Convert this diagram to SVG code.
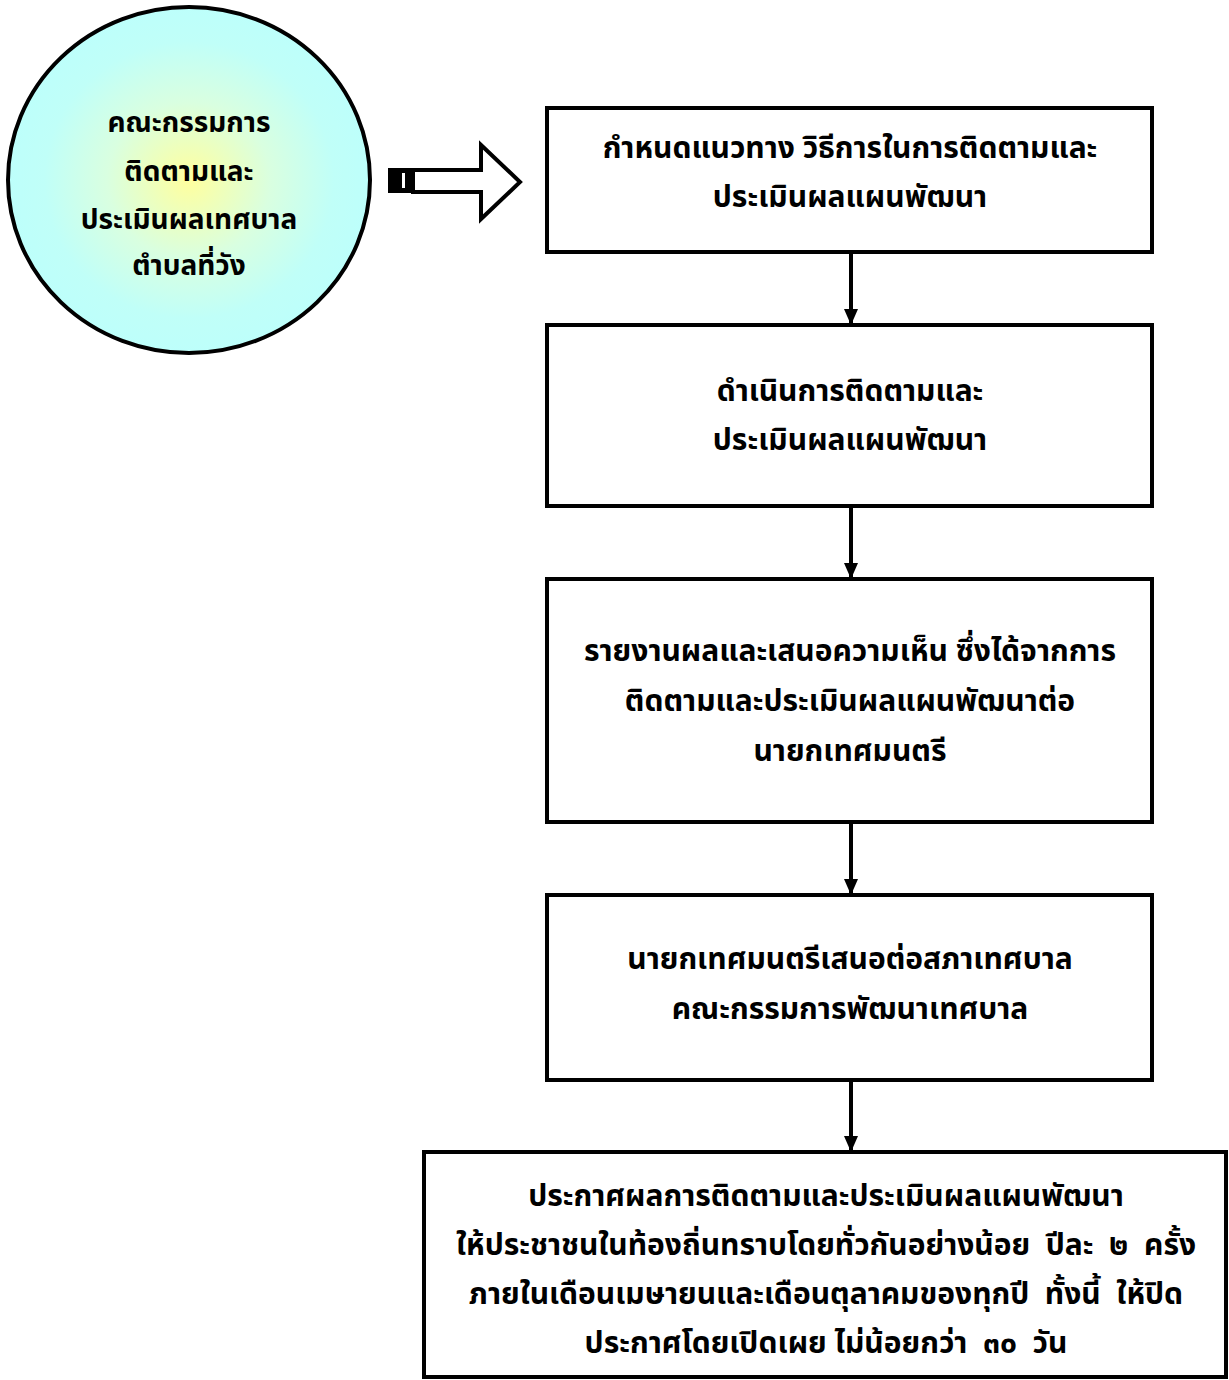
<svg xmlns="http://www.w3.org/2000/svg" width="1229" height="1380" viewBox="0 0 1229 1380">
<style>
  .box { fill: #ffffff; stroke: #000000; stroke-width: 4; }
  .t { font-family: "Noto Sans Thai", "Noto Sans", "DejaVu Sans", sans-serif; font-size: 30px; font-weight: bold; fill: #000000; text-anchor: middle; white-space: pre; }
  .tc { font-size: 28px; }
  .conn { stroke: #000000; stroke-width: 4; fill: none; }
</style>
<defs>
  <radialGradient id="circFill" cx="50%" cy="50%" r="50%">
    <stop offset="0" stop-color="#FFFF9E"/>
    <stop offset="0.45" stop-color="#D9FFE0"/>
    <stop offset="0.8" stop-color="#C0FFF8"/>
    <stop offset="1" stop-color="#BDFFFB"/>
  </radialGradient>
  <marker id="ah" markerWidth="16" markerHeight="14" refX="16" refY="7" orient="auto" markerUnits="userSpaceOnUse" viewBox="0 0 16 14">
    <path d="M0,0 L16,7 L0,14 Z" fill="#000000"/>
  </marker>
</defs>

<g id="committee">
  <ellipse cx="189" cy="180" rx="181" ry="173" fill="url(#circFill)" stroke="#000000" stroke-width="4"/>
  <text class="t tc" x="189" y="132">คณะกรรมการ</text>
  <text class="t tc" x="189" y="181">ติดตามและ</text>
  <text class="t tc" x="189" y="229">ประเมินผลเทศบาล</text>
  <text class="t tc" x="189" y="275">ตำบลที่วัง</text>
</g>

<g id="striped-arrow">
  <rect x="388" y="168" width="25" height="25" fill="#000000"/>
  <rect x="402" y="173" width="3" height="15" fill="#ffffff"/>
  <polygon points="413,170 481,170 481,145 520,182 481,219 481,192 413,192" fill="#ffffff" stroke="#000000" stroke-width="4"/>
</g>

<g id="step1">
  <rect class="box" x="547" y="108" width="605" height="144"/>
  <text class="t" x="850" y="158">กำหนดแนวทาง วิธีการในการติดตามและ</text>
  <text class="t" x="850" y="207">ประเมินผลแผนพัฒนา</text>
</g>

<g id="step2">
  <rect class="box" x="547" y="325" width="605" height="181"/>
  <text class="t" x="850" y="401">ดำเนินการติดตามและ</text>
  <text class="t" x="850" y="450">ประเมินผลแผนพัฒนา</text>
</g>

<g id="step3">
  <rect class="box" x="547" y="579" width="605" height="243"/>
  <text class="t" x="850" y="661">รายงานผลและเสนอความเห็น ซึ่งได้จากการ</text>
  <text class="t" x="850" y="711">ติดตามและประเมินผลแผนพัฒนาต่อ</text>
  <text class="t" x="850" y="761">นายกเทศมนตรี</text>
</g>

<g id="step4">
  <rect class="box" x="547" y="895" width="605" height="185"/>
  <text class="t" x="850" y="969">นายกเทศมนตรีเสนอต่อสภาเทศบาล</text>
  <text class="t" x="850" y="1019">คณะกรรมการพัฒนาเทศบาล</text>
</g>

<g id="step5">
  <rect class="box" x="424" y="1152" width="802" height="225"/>
  <text class="t" x="826" y="1206">ประกาศผลการติดตามและประเมินผลแผนพัฒนา</text>
  <text class="t" x="826" y="1255">ให้ประชาชนในท้องถิ่นทราบโดยทั่วกันอย่างน้อย  ปีละ  ๒  ครั้ง</text>
  <text class="t" x="826" y="1304">ภายในเดือนเมษายนและเดือนตุลาคมของทุกปี  ทั้งนี้  ให้ปิด</text>
  <text class="t" x="826" y="1353">ประกาศโดยเปิดเผย ไม่น้อยกว่า  ๓๐  วัน</text>
</g>

<g id="connectors">
  <line class="conn" x1="851" y1="252" x2="851" y2="325" marker-end="url(#ah)"/>
  <line class="conn" x1="851" y1="506" x2="851" y2="579" marker-end="url(#ah)"/>
  <line class="conn" x1="851" y1="822" x2="851" y2="895" marker-end="url(#ah)"/>
  <line class="conn" x1="851" y1="1080" x2="851" y2="1152" marker-end="url(#ah)"/>
</g>
</svg>
